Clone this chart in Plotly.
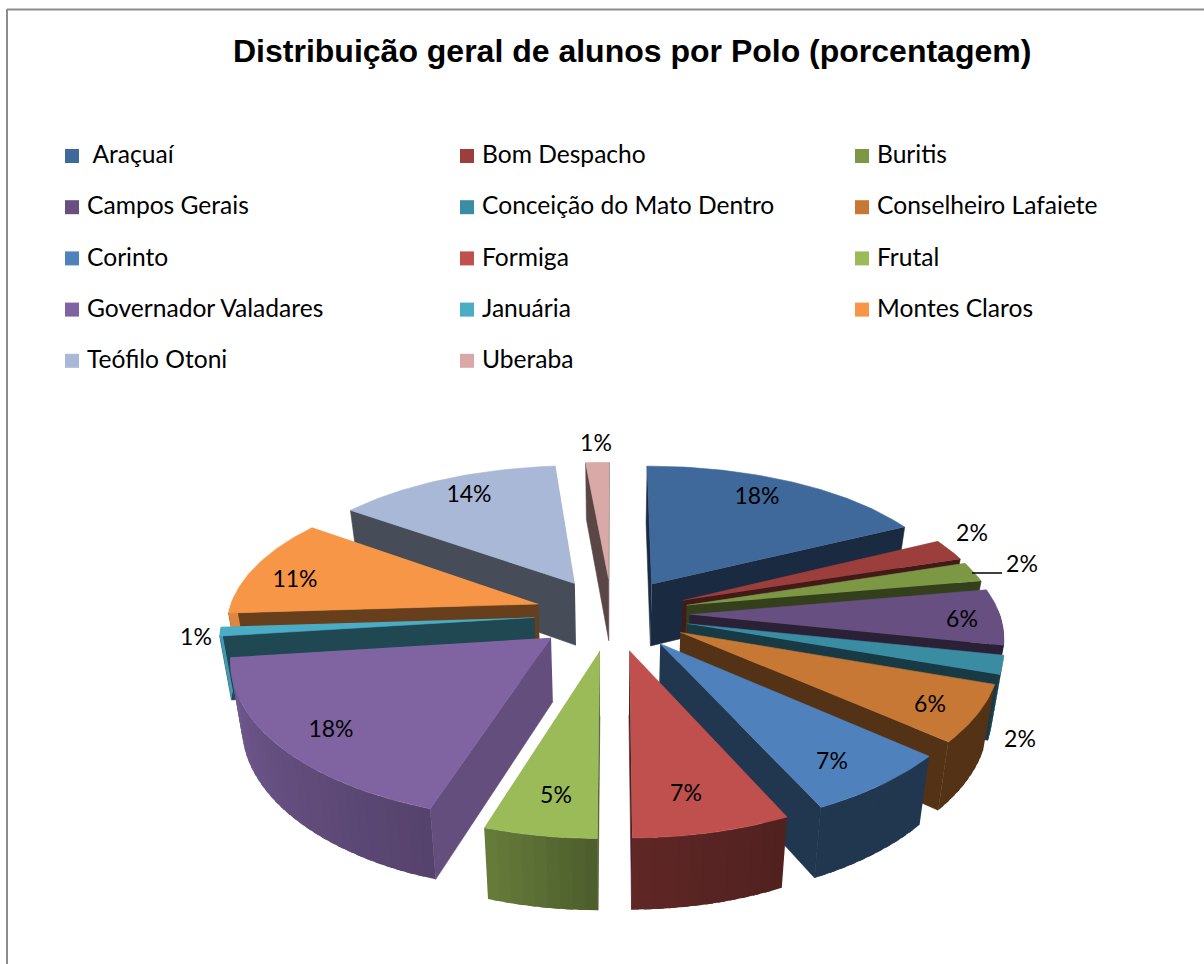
import numpy as np
import plotly.graph_objects as go

# ---------- data ----------
categories = ["Araçuaí", "Bom Despacho", "Buritis", "Campos Gerais", "Conceição do Mato Dentro",
              "Conselheiro Lafaiete", "Corinto", "Formiga", "Frutal", "Governador Valadares",
              "Januária", "Montes Claros", "Teófilo Otoni", "Uberaba"]
percentages = [17.6, 2.4, 2.2, 6.1, 2, 6, 6.7, 7, 5, 18, 1, 11, 13.6, 1.4]
title_text = "Distribuição geral de alunos por Polo (porcentagem)"

# ---------- style ----------
top_colors = ["#3F689B", "#9B3E3C", "#7C9845", "#674F82", "#3A8CA3", "#C87835", "#4F81BD",
              "#C0504D", "#9BBB59", "#8064A2", "#4BACC6", "#F79646", "#A9B8D6", "#D9A9A8"]
legend_prefix = {"Araçuaí": "\u00a0"}
label_xy = [(757, 498), (972, 535), (1022, 566), (962, 621), (1020, 741), (930, 706), (832, 763),
            (686, 795), (556, 797), (331, 731), (196, 639), (295, 581), (469, 496), (596, 445)]
CX, CY, B, A, PERSP_X, PERSP_Y, EXPLODE, DEPTH, TAPER = 612, 614, 310, 145, 0.13, 0.156, 0.25, 63, 0.03


def rgb(hex_color, f):
    h = hex_color.lstrip("#")
    return "rgb(%d,%d,%d)" % tuple(int(int(h[i:i + 2], 16) * f) for i in (0, 2, 4))


def project(u, v, z=0.0):
    sx = 1 / (1 - PERSP_X * v)
    sy = 1 / (1 - PERSP_Y * v)
    x = B * u * sx
    y = A * v * sy + DEPTH * sy ** 0.6 * z
    return CX + x * (1 - TAPER * z), CY + y


def outer_shade(theta):
    return float(np.interp(theta, [0, 155, 180, 198, 263, 360], [0.42, 0.42, 0.5, 0.67, 0.9, 0.9]))


fig = go.Figure()


def poly(points, color, name, width=0.6):
    fig.add_trace(go.Scatter(x=[q[0] for q in points], y=[q[1] for q in points], mode="lines",
                             fill="toself", fillcolor=color,
                             line=dict(color=color, width=width), name=name,
                             hoverinfo="name", showlegend=False))


total = sum(percentages)
edges = np.concatenate([[0], np.cumsum(percentages)]) / total * 360
slices = list(range(len(categories)))
mids = (edges[:-1] + edges[1:]) / 2
order = sorted(slices, key=lambda i: -np.cos(np.radians(mids[i])))

for i in order:
    t0, t1, tm = edges[i], edges[i + 1], mids[i]
    col, name = top_colors[i], categories[i]
    ou = EXPLODE * np.sin(np.radians(tm))
    ov = -EXPLODE * np.cos(np.radians(tm))

    def pt(theta, z=0.0, r=1.0):
        a = np.radians(theta)
        return project(ou + r * np.sin(a), ov - r * np.cos(a), z)

    # radial walls
    wall_f = 0.78 if 190 < t0 < 210 else 0.42
    for th, visible in ((t0, np.sin(np.radians(t0)) <= 0.01), (t1, np.sin(np.radians(t1)) >= -0.01)):
        if visible:
            poly([pt(th, 0, 0), pt(th, 0), pt(th, 1), pt(th, 1, 0)], rgb(col, wall_f), name)
    # outer wall: overlapping narrow bands, so that no seam shows between them
    step = 2.0
    a0 = t0
    while a0 < t1:
        a1 = min(a0 + step * 1.6, t1)
        am = a0 + step / 2
        if -np.cos(np.radians(am)) > -0.05:
            arc = np.linspace(a0, a1, 4)
            poly([pt(a) for a in arc] + [pt(a, 1) for a in arc[::-1]],
                 rgb(col, outer_shade(am)), name, width=0)
        a0 += step
    # top face
    arc = np.linspace(t0, t1, max(3, int(t1 - t0) + 2))
    poly([pt(t0, 0, 0)] + [pt(a) for a in arc], col, name)

# percentage labels
fig.add_trace(go.Scatter(
    x=[p[0] for p in label_xy], y=[p[1] for p in label_xy], mode="text",
    text=[f"{round(v)}%" for v in percentages], textposition="middle center",
    textfont=dict(family="Lato", size=23, color="#000000"),
    hoverinfo="skip", showlegend=False))

# legend: three columns, filled row by row
leg_x = [72 + 395 * (k % 3) for k in slices]
leg_y = [156 + 51.2 * (k // 3) for k in slices]
fig.add_trace(go.Scatter(
    x=leg_x, y=leg_y, mode="markers",
    marker=dict(symbol="square", size=14, color=top_colors, line=dict(width=0)),
    hoverinfo="skip", showlegend=False))
fig.add_trace(go.Scatter(
    x=[x + 15 for x in leg_x], y=[y + 1 for y in leg_y], mode="text",
    text=[legend_prefix.get(c, "") + c for c in categories], textposition="middle right",
    textfont=dict(family="Lato", size=24.6, color="#000000"),
    hoverinfo="skip", showlegend=False))

fig.update_layout(
    width=1204, height=964, margin=dict(l=0, r=0, t=0, b=0),
    paper_bgcolor="white", plot_bgcolor="white", showlegend=False,
    xaxis=dict(range=[0, 1204], visible=False, fixedrange=True),
    yaxis=dict(range=[964, 0], visible=False, fixedrange=True),
    annotations=[dict(text=f"<b>{title_text}</b>", x=632, y=51, xref="x", yref="y", showarrow=False,
                      font=dict(family="Liberation Sans", size=32, color="#000000"))],
    shapes=[
        dict(type="line", x0=7, x1=1204, y0=9.5, y1=9.5, xref="x", yref="y", line=dict(color="#8C8C8C", width=2)),
        dict(type="line", x0=7, x1=7, y0=9, y1=964, xref="x", yref="y", line=dict(color="#8C8C8C", width=2)),
        dict(type="line", x0=972, x1=1002, y0=573, y1=573, xref="x", yref="y", line=dict(color="#000000", width=1.5)),
    ],
)
fig.write_html("out.html", config={"displayModeBar": False},
               post_script="document.body.style.margin='0';")
